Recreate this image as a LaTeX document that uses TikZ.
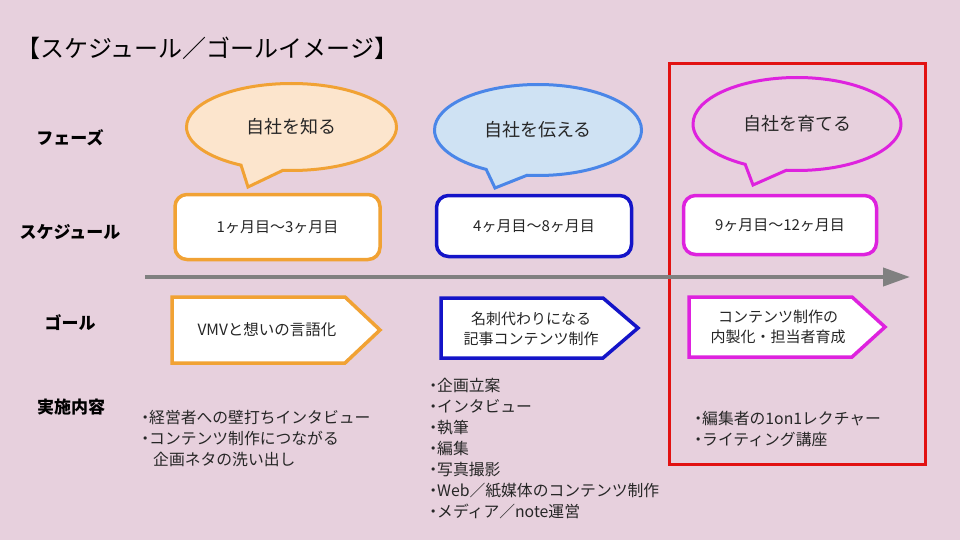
\documentclass[tikz,border=0pt]{standalone}
\usepackage{fontspec}
\newfontfamily\jp{Noto Sans CJK JP}
\usetikzlibrary{shapes.callouts,arrows.meta}
\definecolor{bg}{RGB}{231,208,221}
\definecolor{orng}{RGB}{241,162,52}
\definecolor{peach}{RGB}{252,229,205}
\definecolor{cblue}{RGB}{74,134,232}
\definecolor{lblue}{RGB}{207,226,243}
\definecolor{dblue}{RGB}{20,20,200}
\definecolor{mag}{RGB}{222,34,222}
\definecolor{rred}{RGB}{226,18,18}
\definecolor{agray}{RGB}{128,128,128}
\newcommand\bdot{\makebox[7pt][l]{\hspace*{-4.8pt}・}}
\begin{document}
\begin{tikzpicture}[x=1pt,y=-1pt,
  bubble/.style={ellipse callout, draw, line width=3pt, inner sep=0pt, callout pointer arc=24,
    font=\jp\fontsize{18}{20}\selectfont, text=black!85},
  period/.style={draw, line width=3.5pt, fill=white, rounded corners=12pt, inner sep=0pt,
    font=\jp\fontsize{15}{17}\selectfont, text=black!85},
  goalshape/.style={draw, line width=3.5pt, fill=white},
  goaltext/.style={align=center, inner sep=0pt, font=\jp\fontsize{15}{20}\selectfont, text=black!85},
  rowlabel/.style={inner sep=0pt, font=\jp\bfseries\fontsize{17}{20}\selectfont},
  bodytext/.style={anchor=north west, align=left, inner sep=0pt, font=\jp\fontsize{15.8}{21}\selectfont, text=black!85}
]
\fill[bg] (0,0) rectangle (960,540);
\useasboundingbox (0,0) rectangle (960,540);

% title
\node[anchor=west, inner sep=0pt, font=\jp\fontsize{24}{26}\selectfont] (title) at (16,48) {【スケジュール／ゴールイメージ】};

% row labels
\node[rowlabel] (lphase) at (70,138) {フェーズ};
\node[rowlabel] (lsched) at (70,232) {スケジュール};
\node[rowlabel] (lgoal) at (70,323) {ゴール};
\node[rowlabel] (lcont) at (71,407) {実施内容};

% highlight frame
\node[draw=rred, line width=3pt, minimum width=256pt, minimum height=401pt, inner sep=0pt] (frame) at (797.5,264) {};

% bubbles
\node[bubble, draw=orng, fill=peach, minimum width=210pt, minimum height=87pt,
  callout absolute pointer={(248,187)}] (ph1) at (291.5,127) {自社を知る};
\node[bubble, draw=cblue, fill=lblue, minimum width=207pt, minimum height=91pt,
  callout absolute pointer={(495,188)}] (ph2) at (538,130) {自社を伝える};
\node[bubble, draw=mag, fill=bg, minimum width=208pt, minimum height=93pt,
  callout absolute pointer={(753,185)}] (ph3) at (797,124) {自社を育てる};

% schedule boxes
\node[period, draw=orng, minimum width=205pt, minimum height=65pt] (s1) at (277.5,227) {1ヶ月目～3ヶ月目};
\node[period, draw=dblue, minimum width=195pt, minimum height=61pt] (s2) at (534,226) {4ヶ月目～8ヶ月目};
\node[period, draw=mag, minimum width=193pt, minimum height=59pt] (s3) at (780,225) {9ヶ月目～12ヶ月目};

% timeline arrow
\coordinate (tstart) at (145,277);
\coordinate (tend) at (910,277);
\draw[agray, line width=4pt, -{Triangle[length=27pt,width=18pt]}] (tstart) -- (tend);

% goals
\draw[goalshape, draw=orng] (172,297) -- (345,297) -- (380,330) -- (345,363) -- (172,363) -- cycle;
\node[goaltext, font=\jp\fontsize{15.5}{20}\selectfont] (g1) at (267,330) {VMVと想いの言語化};
\draw[goalshape, draw=dblue] (441,298) -- (603,298) -- (638,328) -- (603,358) -- (441,358) -- cycle;
\node[goaltext] (g2) at (531,329) {名刺代わりになる\\記事コンテンツ制作};
\draw[goalshape, draw=mag] (689,297) -- (852,297) -- (885,327) -- (852,357) -- (689,357) -- cycle;
\node[goaltext] (g3) at (778,327) {コンテンツ制作の\\内製化・担当者育成};

% contents
\node[bodytext] (c1) at (142,410) {\bdot 経営者への壁打ちインタビュー\\\bdot コンテンツ制作につながる\\\hspace*{11pt}企画ネタの洗い出し};
\node[bodytext] (c2) at (430,378) {\bdot 企画立案\\\bdot インタビュー\\\bdot 執筆\\\bdot 編集\\\bdot 写真撮影\\\bdot Web／紙媒体のコンテンツ制作\\\bdot メディア／note運営};
\node[bodytext] (c3) at (695,411) {\bdot 編集者の1on1レクチャー\\\bdot ライティング講座};
\end{tikzpicture}
\end{document}
